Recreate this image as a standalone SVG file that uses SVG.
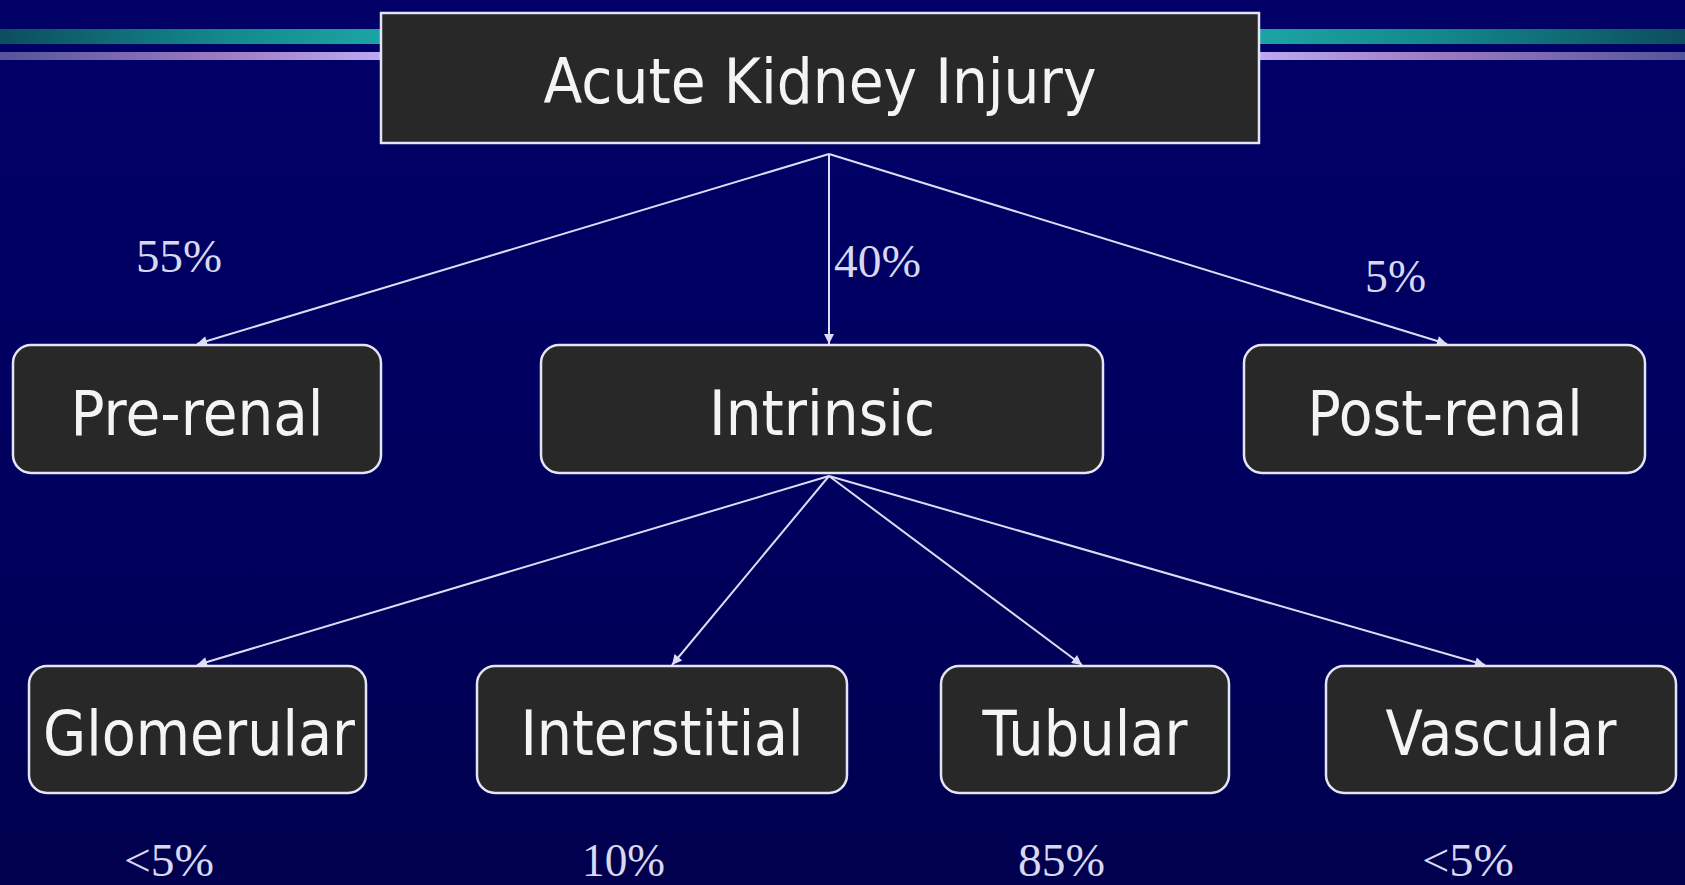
<svg xmlns="http://www.w3.org/2000/svg" width="1685" height="885" viewBox="0 0 1685 885">
  <defs>
    <linearGradient id="bg" x1="0" y1="0" x2="0" y2="1">
      <stop offset="0" stop-color="#000068"/>
      <stop offset="0.6" stop-color="#00005e"/>
      <stop offset="1" stop-color="#00004e"/>
    </linearGradient>
    <linearGradient id="tealL" x1="0" y1="0" x2="1" y2="0">
      <stop offset="0" stop-color="#0c4e5e"/>
      <stop offset="0.6" stop-color="#138a8c"/>
      <stop offset="1" stop-color="#1ca4a4"/>
    </linearGradient>
    <linearGradient id="tealR" x1="0" y1="0" x2="1" y2="0">
      <stop offset="0" stop-color="#1ca4a4"/>
      <stop offset="0.4" stop-color="#138a8c"/>
      <stop offset="1" stop-color="#0c4e5e"/>
    </linearGradient>
    <linearGradient id="lavL" x1="0" y1="0" x2="1" y2="0">
      <stop offset="0" stop-color="#54549a"/>
      <stop offset="0.6" stop-color="#a07cc4"/>
      <stop offset="1" stop-color="#bcaaf0"/>
    </linearGradient>
    <linearGradient id="lavR" x1="0" y1="0" x2="1" y2="0">
      <stop offset="0" stop-color="#bcaaf0"/>
      <stop offset="0.4" stop-color="#a07cc4"/>
      <stop offset="1" stop-color="#54549a"/>
    </linearGradient>
    <marker id="arrow" viewBox="0 0 10 10" refX="10" refY="5" markerWidth="12" markerHeight="10" markerUnits="userSpaceOnUse" orient="auto">
      <path d="M0,0 L10,5 L0,10 z" fill="#dcdcf4"/>
    </marker>
    <style>
      .box { fill: #282828; stroke: #e4e4f4; stroke-width: 2.5; }
      .ntext { font-family: "DejaVu Sans", "Liberation Sans", sans-serif; font-size: 62px; fill: #f4f4f4; text-anchor: middle; }
      .pct { font-family: "Liberation Serif", "Times New Roman", serif; font-size: 46px; fill: #d8d8f0; }
      .conn line { stroke: #dcdcf4; stroke-width: 2; marker-end: url(#arrow); }
    </style>
  </defs>

  <rect x="0" y="0" width="1685" height="885" fill="url(#bg)"/>

  <!-- decorative bands -->
  <g id="bands">
    <rect x="0" y="29" width="381" height="15" fill="url(#tealL)"/>
    <rect x="0" y="52" width="381" height="8" fill="url(#lavL)"/>
    <rect x="1259" y="29" width="426" height="15" fill="url(#tealR)"/>
    <rect x="1259" y="52" width="426" height="8" fill="url(#lavR)"/>
  </g>

  <!-- connectors -->
  <g id="connectors" class="conn">
    <line x1="829" y1="154" x2="197" y2="344"/>
    <line x1="829" y1="154" x2="829" y2="344"/>
    <line x1="829" y1="154" x2="1447" y2="344"/>
    <line x1="829" y1="476" x2="197" y2="665"/>
    <line x1="829" y1="476" x2="672" y2="665"/>
    <line x1="829" y1="476" x2="1082" y2="665"/>
    <line x1="829" y1="476" x2="1485" y2="665"/>
  </g>

  <g id="aki">
    <rect class="box" x="381" y="13" width="878" height="130"/>
    <text class="ntext" x="820" y="103" textLength="553" lengthAdjust="spacingAndGlyphs">Acute Kidney Injury</text>
  </g>

  <g id="prerenal">
    <rect class="box" x="13" y="345" width="368" height="128" rx="18"/>
    <text class="ntext" x="197" y="435" textLength="253" lengthAdjust="spacingAndGlyphs">Pre-renal</text>
  </g>

  <g id="intrinsic">
    <rect class="box" x="541" y="345" width="562" height="128" rx="18"/>
    <text class="ntext" x="822" y="435" textLength="226" lengthAdjust="spacingAndGlyphs">Intrinsic</text>
  </g>

  <g id="postrenal">
    <rect class="box" x="1244" y="345" width="401" height="128" rx="18"/>
    <text class="ntext" x="1445" y="435" textLength="275" lengthAdjust="spacingAndGlyphs">Post-renal</text>
  </g>

  <g id="glomerular">
    <rect class="box" x="29" y="666" width="337" height="127" rx="18"/>
    <text class="ntext" x="199" y="755" textLength="312" lengthAdjust="spacingAndGlyphs">Glomerular</text>
  </g>

  <g id="interstitial">
    <rect class="box" x="477" y="666" width="370" height="127" rx="18"/>
    <text class="ntext" x="662" y="755" textLength="283" lengthAdjust="spacingAndGlyphs">Interstitial</text>
  </g>

  <g id="tubular">
    <rect class="box" x="941" y="666" width="288" height="127" rx="18"/>
    <text class="ntext" x="1085" y="755" textLength="205" lengthAdjust="spacingAndGlyphs">Tubular</text>
  </g>

  <g id="vascular">
    <rect class="box" x="1326" y="666" width="350" height="127" rx="18"/>
    <text class="ntext" x="1501" y="755" textLength="231" lengthAdjust="spacingAndGlyphs">Vascular</text>
  </g>

  <g id="labels">
    <text class="pct" x="136" y="272" textLength="86" lengthAdjust="spacingAndGlyphs">55%</text>
    <text class="pct" x="834" y="277" textLength="87" lengthAdjust="spacingAndGlyphs">40%</text>
    <text class="pct" x="1365" y="292" textLength="61" lengthAdjust="spacingAndGlyphs">5%</text>
    <text class="pct" x="124" y="876" textLength="90" lengthAdjust="spacingAndGlyphs">&lt;5%</text>
    <text class="pct" x="582" y="876" textLength="83" lengthAdjust="spacingAndGlyphs">10%</text>
    <text class="pct" x="1018" y="876" textLength="87" lengthAdjust="spacingAndGlyphs">85%</text>
    <text class="pct" x="1422" y="876" textLength="92" lengthAdjust="spacingAndGlyphs">&lt;5%</text>
  </g>
</svg>
